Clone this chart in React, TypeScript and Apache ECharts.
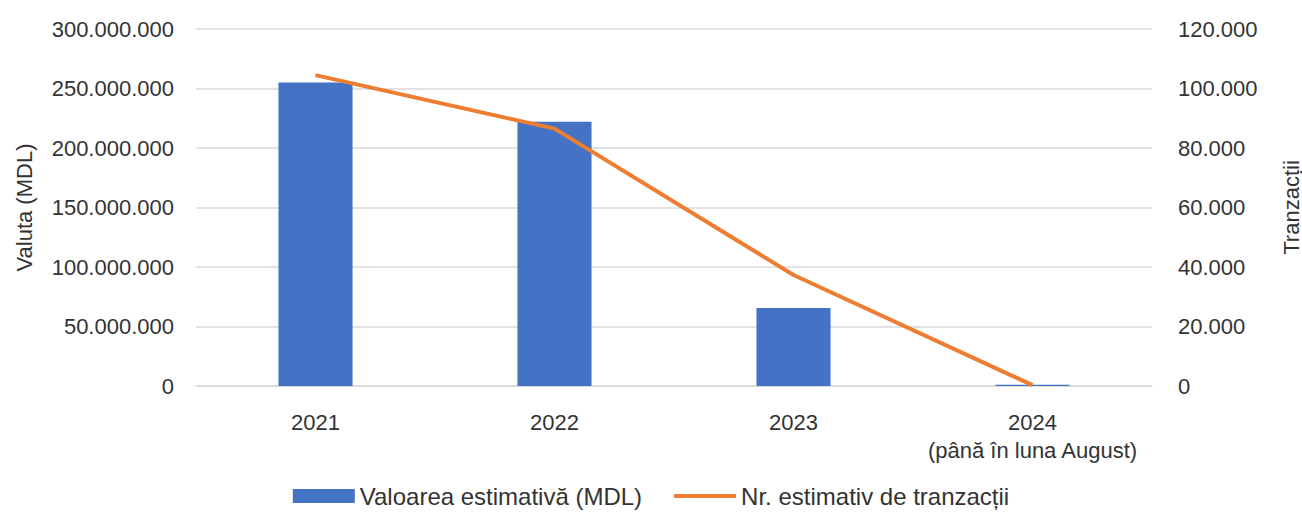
import React, { useEffect, useRef } from "react";
import * as echarts from "echarts";

const categories = ["2021", "2022", "2023", "2024\n(până în luna August)"];
const valoareMDL = [255000000, 222000000, 65500000, 1000000];
const nrTranzactii = [104500, 86500, 37300, 300];
const leftTicks = { min: 0, max: 300000000, interval: 50000000 };
const rightTicks = { min: 0, max: 120000, interval: 20000 };

const fmt = (v: number) => String(Math.round(v)).replace(/\B(?=(\d{3})+(?!\d))/g, ".");

const FONT = "Liberation Sans";
const TXT = "#333333";

export default function App() {
  const ref = useRef<HTMLDivElement>(null);
  useEffect(() => {
    document.body.style.margin = "0";
    const chart = echarts.init(ref.current!, null, { renderer: "svg" });
    chart.setOption({
      animation: false,
      textStyle: { fontFamily: FONT },
      grid: { left: 196, right: 150, top: 29, bottom: 126, containLabel: false, outerBoundsMode: "none" },
      legend: {
        top: 482,
        left: "center",
        padding: [2, 5, 2, 5],
        itemWidth: 62,
        itemHeight: 14,
        itemGap: 32,
        textStyle: { fontFamily: FONT, fontSize: 24, color: TXT },
        data: [
          { name: "Valoarea estimativă (MDL)", icon: "rect" },
          { name: "Nr. estimativ de tranzacții", icon: "path://M0,0 H62 V4 H0 Z" },
        ],
      },
      xAxis: {
        type: "category",
        data: categories,
        axisTick: { show: false },
        axisLine: { lineStyle: { color: "#d9d9d9", width: 1.5 } },
        axisLabel: { color: TXT, fontSize: 22, margin: 22, lineHeight: 28, fontFamily: FONT, interval: 0 },
      },
      yAxis: [
        {
          type: "value",
          ...leftTicks,
          name: "Valuta (MDL)",
          nameLocation: "middle",
          nameGap: 161,
          nameRotate: 90,
          nameTextStyle: { color: TXT, fontSize: 22, fontFamily: FONT },
          axisLabel: { color: TXT, fontSize: 22, margin: 22, formatter: fmt, fontFamily: FONT },
          splitLine: { lineStyle: { color: "#d9d9d9", width: 1.5 } },
          axisLine: { show: false },
          axisTick: { show: false },
        },
        {
          type: "value",
          ...rightTicks,
          position: "right",
          name: "Tranzacții",
          nameLocation: "middle",
          nameGap: 128,
          nameRotate: 90,
          nameTextStyle: { color: TXT, fontSize: 22, fontFamily: FONT },
          axisLabel: { color: TXT, fontSize: 22, margin: 26, formatter: fmt, fontFamily: FONT },
          splitLine: { show: false },
          axisLine: { show: false },
          axisTick: { show: false },
        },
      ],
      series: [
        {
          name: "Valoarea estimativă (MDL)",
          type: "bar",
          data: valoareMDL,
          yAxisIndex: 0,
          barWidth: "31%",
          itemStyle: { color: "#4472C4" },
        },
        {
          name: "Nr. estimativ de tranzacții",
          type: "line",
          data: nrTranzactii,
          yAxisIndex: 1,
          showSymbol: false,
          symbol: "none",
          lineStyle: { color: "#ED7D31", width: 4 },
          itemStyle: { color: "#ED7D31" },
        },
      ],
    });
    return () => chart.dispose();
  }, []);
  return <div ref={ref} style={{ width: 1302, height: 512 }} />;
}
